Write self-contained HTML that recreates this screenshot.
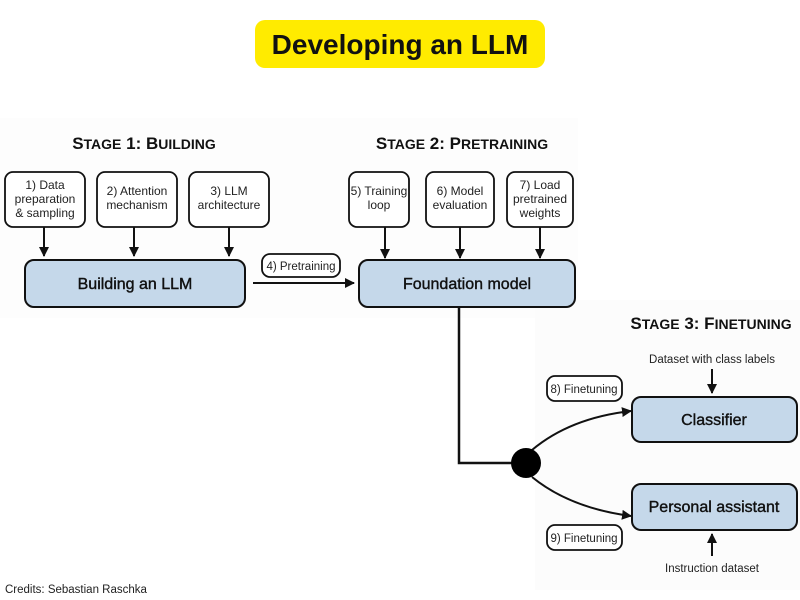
<!DOCTYPE html>
<html><head><meta charset="utf-8"><style>
html,body{margin:0;padding:0;background:#fff;}
svg{display:block;font-family:"Liberation Sans",Arial,sans-serif;}
</style></head><body>
<svg width="800" height="600" viewBox="0 0 800 600" xmlns="http://www.w3.org/2000/svg">
<defs><marker id="a" markerWidth="10" markerHeight="10" refX="9" refY="5" orient="auto" markerUnits="userSpaceOnUse"><path d="M0,0 L10,5 L0,10 Z" fill="#111"/></marker></defs>
<rect x="0" y="118" width="578" height="200" fill="#fdfdfd"/>
<rect x="535" y="300" width="265" height="290" fill="#fcfcfc"/>
<rect x="255" y="20" width="290" height="48" rx="10" fill="#ffeb00"/>
<text x="400" y="54" text-anchor="middle" font-size="28" font-weight="bold" fill="#111">Developing an LLM</text>

<g font-weight="bold" fill="#111">
<text x="144" y="149" text-anchor="middle" font-size="17">S<tspan font-size="14">TAGE</tspan> 1: B<tspan font-size="14">UILDING</tspan></text>
<text x="462" y="149" text-anchor="middle" font-size="17">S<tspan font-size="14">TAGE</tspan> 2: P<tspan font-size="14">RETRAINING</tspan></text>
<text x="711" y="329" text-anchor="middle" font-size="17">S<tspan font-size="14">TAGE</tspan> 3: F<tspan font-size="14">INETUNING</tspan></text>
</g>

<g fill="#fff" stroke="#111" stroke-width="1.8">
<rect x="5" y="172" width="80" height="55" rx="8"/>
<rect x="97" y="172" width="80" height="55" rx="8"/>
<rect x="189" y="172" width="80" height="55" rx="8"/>
<rect x="349" y="172" width="60" height="55" rx="8"/>
<rect x="426" y="172" width="68" height="55" rx="8"/>
<rect x="507" y="172" width="66" height="55" rx="8"/>
<rect x="262" y="254" width="78" height="23" rx="8"/>
<rect x="547" y="376" width="75" height="25" rx="8"/>
<rect x="547" y="525" width="75" height="25" rx="8"/>
</g>
<g fill="#c5d8ea" stroke="#111" stroke-width="2">
<rect x="25" y="260" width="220" height="47" rx="9"/>
<rect x="359" y="260" width="216" height="47" rx="9"/>
<rect x="632" y="397" width="165" height="45" rx="9"/>
<rect x="632" y="484" width="165" height="46" rx="9"/>
</g>
<g font-size="12" fill="#222" text-anchor="middle">
<text x="45" y="189">1) Data</text><text x="45" y="203">preparation</text><text x="45" y="217">&amp; sampling</text>
<text x="137" y="195">2) Attention</text><text x="137" y="209">mechanism</text>
<text x="229" y="195">3) LLM</text><text x="229" y="209">architecture</text>
<text x="379" y="195">5) Training</text><text x="379" y="209">loop</text>
<text x="460" y="195">6) Model</text><text x="460" y="209">evaluation</text>
<text x="540" y="189">7) Load</text><text x="540" y="203">pretrained</text><text x="540" y="217">weights</text>
<text x="301" y="270" font-size="11.5">4) Pretraining</text>
<text x="584" y="393" font-size="11.5">8) Finetuning</text>
<text x="584" y="542" font-size="11.5">9) Finetuning</text>
<text x="712" y="363" font-size="11.5">Dataset with class labels</text>
<text x="712" y="572" font-size="11.5">Instruction dataset</text>
</g>
<g font-size="16" fill="#111" text-anchor="middle" stroke="#111" stroke-width="0.4">
<text x="135" y="289">Building an LLM</text>
<text x="467" y="289">Foundation model</text>
<text x="714" y="425">Classifier</text>
<text x="714" y="512">Personal assistant</text>
</g>
<g stroke="#111" stroke-width="2" fill="none" marker-end="url(#a)">
<line x1="44" y1="227" x2="44" y2="256"/>
<line x1="134" y1="227" x2="134" y2="256"/>
<line x1="229" y1="227" x2="229" y2="256"/>
<line x1="385" y1="227" x2="385" y2="258"/>
<line x1="460" y1="227" x2="460" y2="258"/>
<line x1="540" y1="227" x2="540" y2="258"/>
<line x1="253" y1="283" x2="354" y2="283"/>
<line x1="712" y1="369" x2="712" y2="393"/>
<line x1="712" y1="556" x2="712" y2="534"/>
<path d="M532,450 Q570,418 631,411"/>
<path d="M532,477 Q570,508 631,516"/>
</g>
<polyline points="459,307 459,463 512,463" stroke="#111" stroke-width="2.5" fill="none"/>
<circle cx="526" cy="463" r="15" fill="#000"/>
<text x="5" y="593" font-size="11.5" fill="#222">Credits: Sebastian Raschka</text>
</svg>
</body></html>
